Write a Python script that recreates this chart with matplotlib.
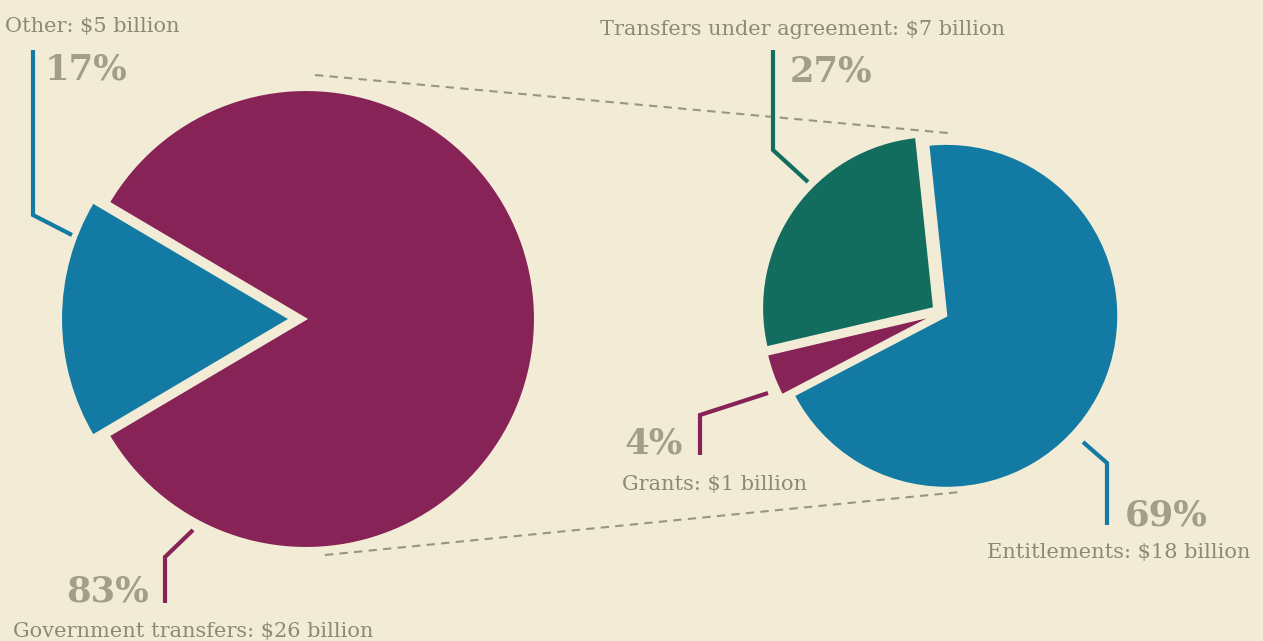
import matplotlib
matplotlib.use("Agg")
import matplotlib.pyplot as plt

# Répartition du total (gauche) et détail des transferts gouvernementaux (droite)
left_labels = ["Other", "Government transfers"]
left_share = [17, 83]
left_amount = [5, 26]

right_labels = ["Transfers under agreement", "Grants", "Entitlements"]
right_share = [27, 4, 69]
right_amount = [7, 1, 18]

BG = "#f2ecd6"
MAGENTA = "#872356"
BLUE = "#137ba3"
TEAL = "#136d5e"
TXT = "#8d8974"
PCT = "#a29e8a"
DASH = "#9a957f"

W, H = 1263, 641
fig = plt.figure(figsize=(W / 100, H / 100), dpi=100, facecolor=BG)
ax = fig.add_axes([0, 0, 1, 1])
ax.set_facecolor(BG)

# coordonnées en pixels, axe y vers le bas -> sens horaire inversé pour garder l'ordre visuel
# (explode est en unités de données, donc en pixels ici)
wp = dict(edgecolor=BG, linewidth=1.5)
ax.pie(left_share, colors=[BLUE, MAGENTA], explode=[16, 0],
       center=(306, 319), radius=229, startangle=-149.4, counterclock=False,
       wedgeprops=wp)
ax.pie(right_share, colors=[TEAL, MAGENTA, BLUE], explode=[8.5, 7, 6],
       center=(941, 313), radius=172, startangle=-96, counterclock=False,
       wedgeprops=wp)

# pointillés reliant les deux camemberts
ax.plot([315, 948], [75, 133], ls=(0, (4, 3)), color=DASH, lw=1.5)
ax.plot([325, 960], [555, 492], ls=(0, (4, 3)), color=DASH, lw=1.5)

# traits de rappel
leaders = [
    ([33, 33, 72], [50, 215, 235], BLUE),
    ([773, 773, 808], [50, 150, 182], TEAL),
    ([700, 700, 768], [455, 415, 393], MAGENTA),
    ([1083, 1107, 1107], [442, 463, 525], BLUE),
    ([193, 165, 165], [530, 557, 603], MAGENTA),
]
for xs, ys, c in leaders:
    ax.plot(xs, ys, color=c, lw=3, solid_joinstyle="miter", solid_capstyle="butt")

# libellés : (x, y) ligne de base du texte, (x, y) du pourcentage
label_pos = {
    "Other": ((5, 32), (45, 80)),
    "Government transfers": ((13, 637), (66, 602)),
    "Transfers under agreement": ((600, 35), (790, 82)),
    "Grants": ((622, 490), (624, 453)),
    "Entitlements": ((987, 558), (1125, 525)),
}
font = dict(family="DejaVu Serif")
for labels, shares, amounts in [(left_labels, left_share, left_amount),
                                (right_labels, right_share, right_amount)]:
    for lab, s, a in zip(labels, shares, amounts):
        (tx, ty), (px, py) = label_pos[lab]
        ax.text(tx, ty, f"{lab}: \\${a} billion", fontsize=15, color=TXT,
                va="baseline", ha="left", **font)
        ax.text(px, py, f"{s}%", fontsize=25.5, color=PCT, fontweight="bold",
                va="baseline", ha="left", **font)

ax.set_xlim(0, W)
ax.set_ylim(H, 0)
ax.set_aspect("equal")
ax.axis("off")

fig.savefig("out.png", dpi=100, facecolor=BG)
